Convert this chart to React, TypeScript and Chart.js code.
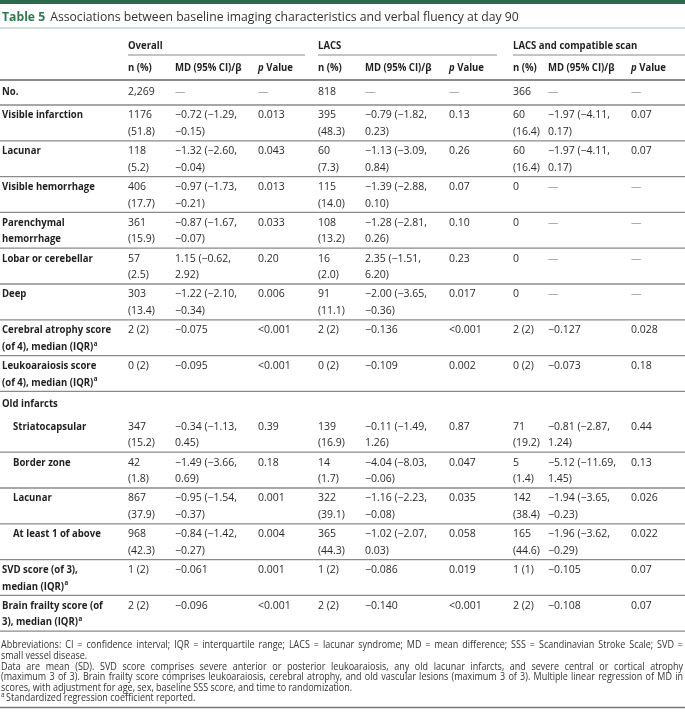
import React, { useEffect, useRef } from 'react';
import { Chart, registerables } from 'chart.js';
Chart.register(...registerables);

const W = 685;
const H = 712;

// ---------- data ----------
const titleBold = 'Table 5';
const titleText = 'Associations between baseline imaging characteristics and verbal fluency at day 90';
const groupHeaders = ['Overall', 'LACS', 'LACS and compatible scan'];
const subHeaders = ['n (%)', 'MD (95% CI)/β', 'p Value'];

const rowLabels = [
  'No.', 'Visible infarction', 'Lacunar', 'Visible hemorrhage', 'Parenchymal\nhemorrhage',
  'Lobar or cerebellar', 'Deep', 'Cerebral atrophy score\n(of 4), median (IQR)^a',
  'Leukoaraiosis score\n(of 4), median (IQR)^a', 'Old infarcts', 'Striatocapsular', 'Border zone',
  'Lacunar', 'At least 1 of above', 'SVD score (of 3),\nmedian (IQR)^a', 'Brain frailty score (of\n3), median (IQR)^a',
];
const indentedRows = [10, 11, 12, 13];
const unlinedRows = [9];

const overallN = ['2,269', '1176\n(51.8)', '118\n(5.2)', '406\n(17.7)', '361\n(15.9)', '57\n(2.5)', '303\n(13.4)', '2 (2)', '0 (2)', '', '347\n(15.2)', '42\n(1.8)', '867\n(37.9)', '968\n(42.3)', '1 (2)', '2 (2)'];
const overallMD = ['—', '−0.72 (−1.29,\n−0.15)', '−1.32 (−2.60,\n−0.04)', '−0.97 (−1.73,\n−0.21)', '−0.87 (−1.67,\n−0.07)', '1.15 (−0.62,\n2.92)', '−1.22 (−2.10,\n−0.34)', '−0.075', '−0.095', '', '−0.34 (−1.13,\n0.45)', '−1.49 (−3.66,\n0.69)', '−0.95 (−1.54,\n−0.37)', '−0.84 (−1.42,\n−0.27)', '−0.061', '−0.096'];
const overallP = ['—', '0.013', '0.043', '0.013', '0.033', '0.20', '0.006', '<0.001', '<0.001', '', '0.39', '0.18', '0.001', '0.004', '0.001', '<0.001'];
const lacsN = ['818', '395\n(48.3)', '60\n(7.3)', '115\n(14.0)', '108\n(13.2)', '16\n(2.0)', '91\n(11.1)', '2 (2)', '0 (2)', '', '139\n(16.9)', '14\n(1.7)', '322\n(39.1)', '365\n(44.3)', '1 (2)', '2 (2)'];
const lacsMD = ['—', '−0.79 (−1.82,\n0.23)', '−1.13 (−3.09,\n0.84)', '−1.39 (−2.88,\n0.10)', '−1.28 (−2.81,\n0.26)', '2.35 (−1.51,\n6.20)', '−2.00 (−3.65,\n−0.36)', '−0.136', '−0.109', '', '−0.11 (−1.49,\n1.26)', '−4.04 (−8.03,\n−0.06)', '−1.16 (−2.23,\n−0.08)', '−1.02 (−2.07,\n0.03)', '−0.086', '−0.140'];
const lacsP = ['—', '0.13', '0.26', '0.07', '0.10', '0.23', '0.017', '<0.001', '0.002', '', '0.87', '0.047', '0.035', '0.058', '0.019', '<0.001'];
const compN = ['366', '60\n(16.4)', '60\n(16.4)', '0', '0', '0', '0', '2 (2)', '0 (2)', '', '71\n(19.2)', '5\n(1.4)', '142\n(38.4)', '165\n(44.6)', '1 (1)', '2 (2)'];
const compMD = ['—', '−1.97 (−4.11,\n0.17)', '−1.97 (−4.11,\n0.17)', '—', '—', '—', '—', '−0.127', '−0.073', '', '−0.81 (−2.87,\n1.24)', '−5.12 (−11.69,\n1.45)', '−1.94 (−3.65,\n−0.23)', '−1.96 (−3.62,\n−0.29)', '−0.105', '−0.108'];
const compP = ['—', '0.07', '0.07', '—', '—', '—', '—', '0.028', '0.18', '', '0.44', '0.13', '0.026', '0.022', '0.07', '0.07'];

const footLines = [
  { t: 'Abbreviations: CI = confidence interval; IQR = interquartile range; LACS = lacunar syndrome; MD = mean difference; SSS = Scandinavian Stroke Scale; SVD =', j: true },
  { t: 'small vessel disease.', j: false },
  { t: 'Data are mean (SD). SVD score comprises severe anterior or posterior leukoaraiosis, any old lacunar infarcts, and severe central or cortical atrophy', j: true },
  { t: '(maximum 3 of 3). Brain frailty score comprises leukoaraiosis, cerebral atrophy, and old vascular lesions (maximum 3 of 3). Multiple linear regression of MD in', j: true },
  { t: 'scores, with adjustment for age, sex, baseline SSS score, and time to randomization.', j: false },
  { t: '^a Standardized regression coefficient reported.', j: false },
];

const columns = [overallN, overallMD, overallP, lacsN, lacsMD, lacsP, compN, compMD, compP];

// ---------- layout ----------
const FONT = '"Open Sans", sans-serif';
const BOLD_SQUEEZE = 0.91;
const colX = [128, 175, 258, 318, 365, 449, 513, 548, 631];
const groupSpan = [[128, 305], [318, 497], [513, 685]];
const LABEL_X = 2;
const INDENT_X = 13;
const BAR_H = 4;
const TITLE_Y = 18;
const TITLE_LINE_Y = 28;
const GROUP_Y = 46;
const GROUP_LINE_Y = 55;
const SUB_Y = 68;
const HEAD_LINE_Y = 80;
const ROW1_H = 25;
const ROW2_H = 35.8;
const FIRST_OFF = 10.5;
const LINE_GAP = 16.5;
const FOOT_Y0 = 645.5;
const FOOT_GAP = 10.6;
const FOOT_END_Y = 707.5;
const FS = 10.5;
const FOOT_FS = 10;
const FOOT_SQUEEZE = 0.9;

const TEXT = '#2b2b2b';
const RULE = '#8a8a8a';

const tablePlugin = {
  id: 'tableDraw',
  afterDraw(chart: any) {
    const ctx: CanvasRenderingContext2D = chart.ctx;
    const xs = chart.scales.x;
    const ys = chart.scales.y;
    const px = (v: number) => xs.getPixelForValue(v);
    const py = (v: number) => ys.getPixelForValue(v);
    ctx.save();
    ctx.fillStyle = '#fff';
    ctx.fillRect(0, 0, W, H);
    ctx.textBaseline = 'middle';

    const hline = (y: number, x0: number, x1: number, color: string, lw: number) => {
      ctx.strokeStyle = color;
      ctx.lineWidth = lw;
      ctx.beginPath();
      ctx.moveTo(px(x0), py(y));
      ctx.lineTo(px(x1), py(y));
      ctx.stroke();
    };

    // draws text (possibly squeezed), returns advance width
    const txt = (s: string, x: number, y: number, font: string, squeeze: number) => {
      ctx.font = font;
      ctx.save();
      ctx.translate(x, y);
      ctx.scale(squeeze, 1);
      ctx.fillText(s, 0, 0);
      ctx.restore();
      return ctx.measureText(s).width * squeeze;
    };

    const boldFont = (size: number, italic = false) => `${italic ? 'italic ' : ''}bold ${size}px ${FONT}`;

    const drawLabel = (s: string, x: number, y: number) => {
      let main = s;
      let sup = '';
      if (s.endsWith('^a')) { main = s.slice(0, -2); sup = 'a'; }
      const w = txt(main, x, y, boldFont(FS), BOLD_SQUEEZE);
      if (sup) txt(sup, x + w + 0.5, y - FS * 0.3, boldFont(FS * 0.65), BOLD_SQUEEZE);
    };

    // top bar
    ctx.fillStyle = '#2b6a4c';
    ctx.fillRect(px(0), py(0), px(W) - px(0), py(BAR_H) - py(0));

    // title
    ctx.fillStyle = '#2e7a4f';
    const tw = txt(titleBold, px(LABEL_X), py(TITLE_Y), `bold 12.2px ${FONT}`, 1);
    ctx.fillStyle = '#333';
    txt(titleText, px(LABEL_X) + tw + 5, py(TITLE_Y), `12.2px ${FONT}`, 1);
    hline(TITLE_LINE_Y, 0, W, '#a9c4b3', 1);

    // group headers
    ctx.fillStyle = '#1f1f1f';
    groupHeaders.forEach((g, i) => {
      txt(g, px(groupSpan[i][0]), py(GROUP_Y), boldFont(FS), BOLD_SQUEEZE);
      hline(GROUP_LINE_Y, groupSpan[i][0], groupSpan[i][1], RULE, 1.2);
    });
    // sub headers
    ctx.fillStyle = '#1f1f1f';
    for (let g = 0; g < 3; g++) {
      for (let k = 0; k < 3; k++) {
        const x = px(colX[g * 3 + k]);
        const s = subHeaders[k];
        if (s.startsWith('p ')) {
          const w = txt('p ', x, py(SUB_Y), boldFont(FS, true), BOLD_SQUEEZE);
          txt(s.slice(2), x + w, py(SUB_Y), boldFont(FS), BOLD_SQUEEZE);
        } else {
          txt(s, x, py(SUB_Y), boldFont(FS), BOLD_SQUEEZE);
        }
      }
    }
    hline(HEAD_LINE_Y, 0, W, '#666', 1.3);

    // body rows
    let top = HEAD_LINE_Y;
    rowLabels.forEach((label, r) => {
      const lines = Math.max(label.split('\n').length, ...columns.map((c) => c[r].split('\n').length));
      const h = lines > 1 ? ROW2_H : ROW1_H;
      const lx = indentedRows.includes(r) ? INDENT_X : LABEL_X;
      const off = lines > 1 ? FIRST_OFF : h / 2;
      ctx.fillStyle = '#1f1f1f';
      label.split('\n').forEach((ln, i) => {
        drawLabel(ln, px(lx), py(top + off + i * LINE_GAP));
      });
      columns.forEach((col, c) => {
        col[r].split('\n').forEach((ln, i) => {
          ctx.fillStyle = ln === '—' ? '#9a9a9a' : TEXT;
          txt(ln, px(colX[c]), py(top + off + i * LINE_GAP), `${FS}px ${FONT}`, 1);
        });
      });
      top += h;
      if (!unlinedRows.includes(r)) hline(top, 0, W, RULE, 1.3);
    });

    // footnotes
    ctx.fillStyle = '#333';
    const fullW = px(W - 2) - px(1);
    footLines.forEach((f, i) => {
      const y = py(FOOT_Y0 + i * FOOT_GAP);
      let text = f.t;
      let x = px(1);
      if (text.startsWith('^a ')) {
        txt('a', x, y - 3, `${FOOT_FS * 0.65}px ${FONT}`, 1);
        x += 5;
        text = text.slice(3);
      }
      ctx.font = `${FOOT_FS}px ${FONT}`;
      const words = text.split(' ');
      const spaceW = ctx.measureText(' ').width * FOOT_SQUEEZE;
      const wordW = words.map((w) => ctx.measureText(w).width * FOOT_SQUEEZE);
      const natural = wordW.reduce((a, b) => a + b, 0) + spaceW * (words.length - 1);
      let gap = spaceW;
      let squeeze = FOOT_SQUEEZE;
      if (f.j) {
        const extra = fullW - natural;
        if (extra >= 0) gap = spaceW + extra / (words.length - 1);
        else squeeze = FOOT_SQUEEZE * fullW / natural;
      }
      words.forEach((w) => {
        const adv = txt(w, x, y, `${FOOT_FS}px ${FONT}`, squeeze);
        x += adv + gap;
      });
    });
    hline(FOOT_END_Y, 0, W, '#777', 1.3);
    ctx.restore();
  },
};

export default function App() {
  const ref = useRef<HTMLCanvasElement | null>(null);
  useEffect(() => {
    if (!ref.current) return;
    const chart = new Chart(ref.current, {
      type: 'scatter',
      data: { datasets: [{ data: [], pointRadius: 0 }] },
      options: {
        animation: false,
        responsive: false,
        maintainAspectRatio: false,
        layout: { padding: 0 },
        plugins: { legend: { display: false }, tooltip: { enabled: false } },
        scales: {
          x: { type: 'linear', min: 0, max: W, display: false },
          y: { type: 'linear', min: 0, max: H, reverse: true, display: false },
        },
      },
      plugins: [tablePlugin],
    } as any);
    return () => chart.destroy();
  }, []);
  return (
    <div style={{ position: 'fixed', left: 0, top: 0, width: W, height: H, background: '#fff' }}>
      <canvas ref={ref} width={W} height={H} style={{ width: W, height: H, display: 'block' }} />
    </div>
  );
}
